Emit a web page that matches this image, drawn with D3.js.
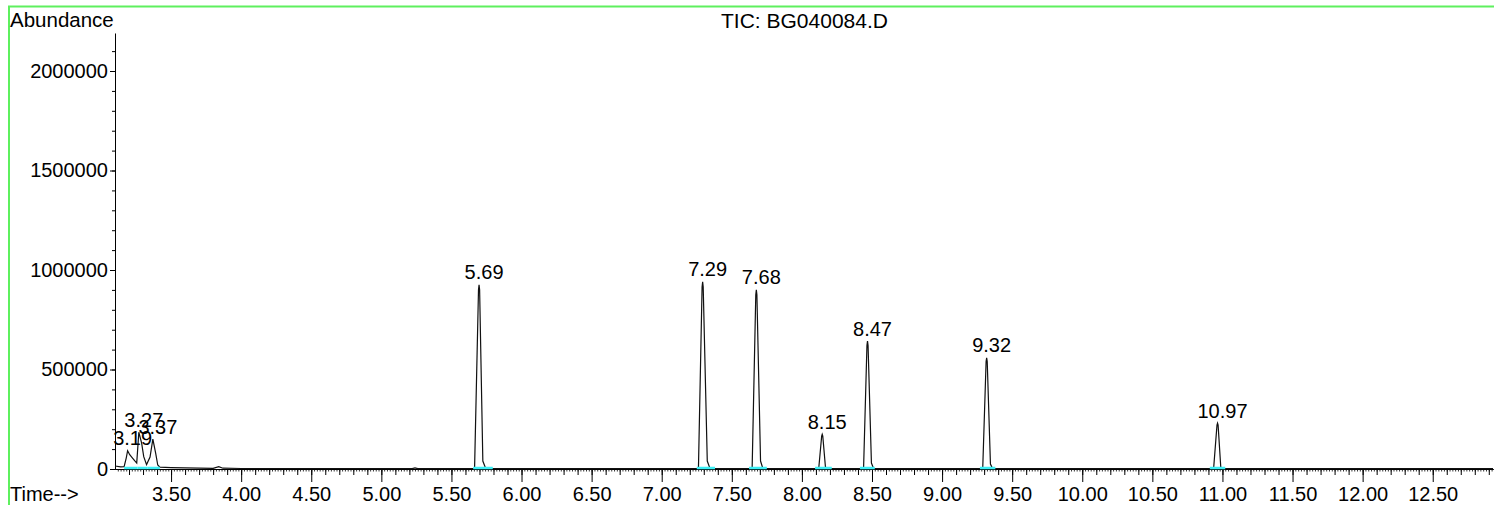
<!DOCTYPE html>
<html>
<head>
<meta charset="UTF-8">
<title>TIC: BG040084.D</title>
<script src="https://cdn.jsdelivr.net/npm/d3@7"></script>
<style>
  body { margin: 0; background: #fff; }
  svg text { font-family: "Liberation Sans", Arial, sans-serif; fill: #000; }
</style>
</head>
<body>
<div id="chart"></div>
<script>
// retention time (min), abundance
const trace = [
  [3.10, 15000], [3.14, 11000], [3.165, 12000], [3.18, 55000], [3.19, 92000],
  [3.205, 72000], [3.225, 55000], [3.24, 42000], [3.255, 30000], [3.27, 185000],
  [3.29, 130000], [3.305, 62000], [3.325, 22000], [3.35, 60000], [3.37, 150000],
  [3.39, 80000], [3.405, 20000], [3.42, 9000], [3.50, 7000], [3.60, 6000],
  [3.70, 4000], [3.80, 3000], [3.84, 12000], [3.87, 4000], [4.00, 2500],
  [5.22, 2000], [5.24, 6000], [5.26, 2000],
  [5.665, 2000], [5.693, 900000], [5.697, 925000], [5.701, 900000], [5.724, 40000], [5.745, 2000],
  [7.262, 2000], [7.288, 915000], [7.292, 941000], [7.296, 915000], [7.325, 40000], [7.345, 2000],
  [7.645, 2000], [7.671, 875000], [7.675, 900000], [7.679, 875000], [7.705, 40000], [7.722, 2000],
  [8.12, 2000], [8.141, 165000], [8.145, 174000], [8.149, 165000], [8.168, 10000], [8.18, 2000],
  [8.44, 2000], [8.464, 620000], [8.468, 643000], [8.472, 620000], [8.496, 30000], [8.512, 2000],
  [9.29, 2000], [9.314, 540000], [9.318, 558000], [9.322, 540000], [9.345, 25000], [9.36, 2000],
  [10.937, 2000], [10.961, 220000], [10.965, 230000], [10.969, 220000], [10.988, 10000], [11.00, 2000],
  [12.93, 1500]
];

const peakLabels = ["3.19", "3.27", "3.37", "5.69", "7.29", "7.68", "8.15", "8.47", "9.32", "10.97"];
const peakTimes  = [3.19, 3.27, 3.37, 5.697, 7.292, 7.675, 8.145, 8.468, 9.318, 10.965];
const peakHeights = [92000, 185000, 150000, 925000, 941000, 900000, 174000, 643000, 558000, 230000];

// integration baselines (start, end)
const baselines = [
  [3.165, 3.26], [3.26, 3.33], [3.33, 3.42], [5.655, 5.795], [7.25, 7.38], [7.623, 7.75],
  [8.094, 8.213], [8.414, 8.52], [9.27, 9.38], [10.91, 11.02]
];

const xTicks = [3.5, 4.0, 4.5, 5.0, 5.5, 6.0, 6.5, 7.0, 7.5, 8.0, 8.5, 9.0, 9.5, 10.0, 10.5, 11.0, 11.5, 12.0, 12.5];
const yTicks = [0, 500000, 1000000, 1500000, 2000000];

const w = 1494;
const h = 505;
const axisY = 469;
const axisX = 115;

const svg = d3.select("#chart")
              .append("svg")
              .attr("width", w)
              .attr("height", h);

// green frame
svg.append("rect")
   .attr("x", 9)
   .attr("y", 6.5)
   .attr("width", w + 20)
   .attr("height", h + 20)
   .attr("fill", "none")
   .attr("stroke", "#5ef05e")
   .attr("stroke-width", 2);

const xScale = d3.scaleLinear().domain([3.1, 12.93]).range([axisX, 1493]);
const yScale = d3.scaleLinear().domain([0, 2190000]).range([axisY, 33.2]);

// x axis: tiny, minor, major ticks
svg.append("g")
   .attr("transform", `translate(0, ${axisY})`)
   .call(d3.axisBottom(xScale).tickValues(d3.range(3.12, 12.93, 0.02)).tickSize(2.5).tickSizeOuter(0).tickFormat(""))
   .call(g => g.selectAll("line").attr("stroke", "#333"));

svg.append("g")
   .attr("transform", `translate(0, ${axisY})`)
   .call(d3.axisBottom(xScale).tickValues(d3.range(3.2, 12.93, 0.1)).tickSize(6).tickSizeOuter(0).tickFormat(""));

svg.append("g")
   .attr("transform", `translate(0, ${axisY})`)
   .call(d3.axisBottom(xScale).tickValues(xTicks).tickSize(13).tickPadding(4.8).tickSizeOuter(0).tickFormat(d3.format(".2f")))
   .call(g => g.selectAll("text").style("font-size", "20px").attr("fill", "#000"));

// y axis
svg.append("g")
   .attr("transform", `translate(${axisX}, 0)`)
   .call(d3.axisLeft(yScale).tickValues(d3.range(100000, 2190000, 100000)).tickSize(3).tickSizeOuter(0).tickFormat(""));

svg.append("g")
   .attr("transform", `translate(${axisX}, 0)`)
   .call(d3.axisLeft(yScale).tickValues(yTicks).tickSize(5).tickPadding(2).tickSizeOuter(0).tickFormat(d3.format("d")))
   .call(g => g.selectAll("text").style("font-size", "20px").attr("fill", "#000"));

// trace
const line = d3.line()
               .x(d => xScale(d[0]))
               .y(d => yScale(d[1]));

svg.append("path")
   .datum(trace)
   .attr("d", line)
   .attr("fill", "none")
   .attr("stroke", "#111")
   .attr("stroke-width", 1.2);

// integration baselines, drawn over the foot of each peak
svg.selectAll(".base")
   .data(baselines)
   .enter()
   .append("line")
   .attr("class", "base")
   .attr("x1", d => xScale(d[0]))
   .attr("x2", d => xScale(d[1]))
   .attr("y1", axisY - 1)
   .attr("y2", axisY - 1)
   .attr("stroke", "#3aeef4")
   .attr("stroke-width", 2.5);

// peak labels
svg.selectAll(".peak")
   .data(peakLabels)
   .enter()
   .append("text")
   .attr("class", "peak")
   .attr("x", (d, i) => xScale(peakTimes[i]) + 5)
   .attr("y", (d, i) => yScale(peakHeights[i]) - 5.5)
   .attr("text-anchor", "middle")
   .style("font-size", "20px")
   .text(d => d);

svg.append("text")
   .attr("x", 10)
   .attr("y", 27)
   .style("font-size", "20.5px")
   .text("Abundance");

svg.append("text")
   .attr("x", 804.5)
   .attr("y", 28.3)
   .attr("text-anchor", "middle")
   .style("font-size", "21px")
   .text("TIC: BG040084.D");

svg.append("text")
   .attr("x", 10)
   .attr("y", 501)
   .style("font-size", "20px")
   .text("Time-->");
</script>
</body>
</html>
